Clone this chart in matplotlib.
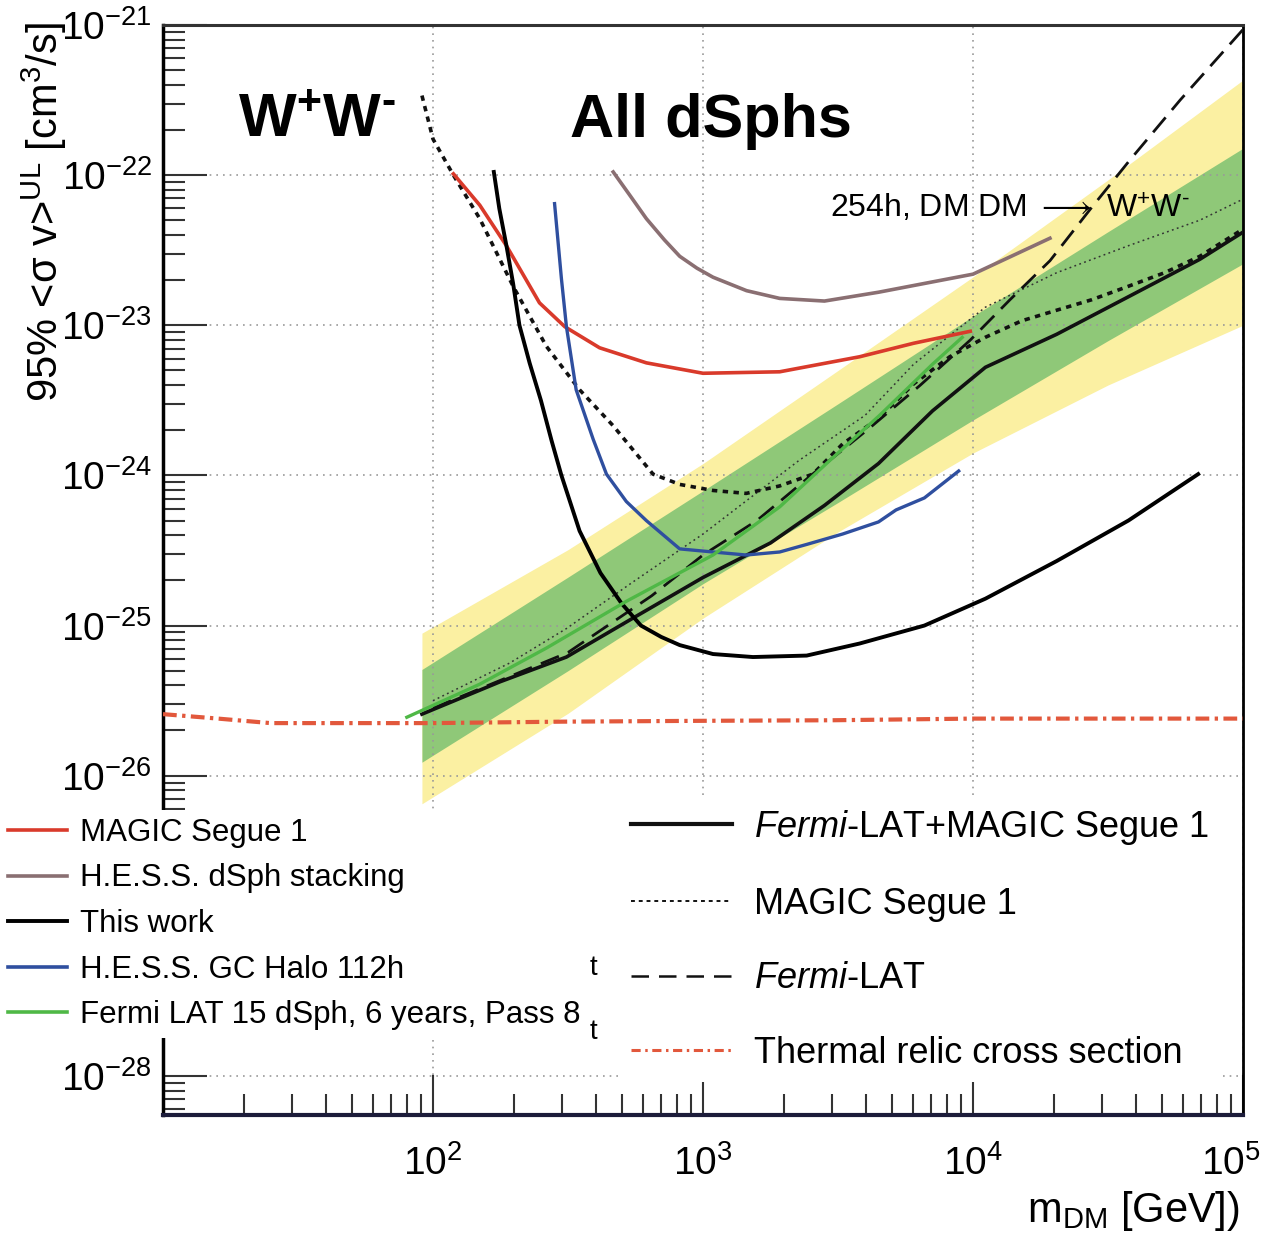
import numpy as np
import matplotlib.pyplot as plt
import matplotlib.transforms as mtransforms
from matplotlib.lines import Line2D
from matplotlib.patches import Rectangle

plt.rcParams['font.family'] = ['Liberation Sans', 'DejaVu Sans']
plt.rcParams['mathtext.fontset'] = 'custom'
plt.rcParams['mathtext.rm'] = 'Liberation Sans'
plt.rcParams['mathtext.it'] = 'Liberation Sans:italic'
plt.rcParams['mathtext.bf'] = 'Liberation Sans:bold'

# expected limit bands (Fermi-LAT+MAGIC)
band_mass = [91, 316, 1000, 3162, 10000, 31623, 100000]
yellow_lo = [6.5e-27, 2.6e-26, 1.12e-25, 4.2e-25, 1.41e-24, 4.0e-24, 1.0e-23]
green_lo = [1.23e-26, 5.0e-26, 1.9e-25, 6.6e-25, 2.34e-24, 7.9e-24, 2.57e-23]
green_hi = [5.1e-26, 2.1e-25, 7.9e-25, 3.0e-24, 1.15e-23, 4.2e-23, 1.51e-22]
yellow_hi = [8.9e-26, 3.2e-25, 1.2e-24, 5.0e-24, 2.1e-23, 9.3e-23, 4.3e-22]

# Fermi-LAT+MAGIC Segue 1 (black solid)
comb_mass = [91, 177, 312, 550, 1000, 1778, 2818, 4467, 7079, 11117, 20417, 37670, 69183, 100000]
comb_sv = [2.57e-26, 4.22e-26, 6.17e-26, 1.12e-25, 2.09e-25, 3.55e-25, 6.31e-25, 1.2e-24,
           2.69e-24, 5.25e-24, 8.71e-24, 1.55e-23, 2.75e-23, 4.17e-23]

# median expected (thin dotted)
med_mass = [100, 192, 312, 550, 1000, 2270, 3981, 6026, 11117, 20417, 37670, 69183, 100000]
med_sv = [3.16e-26, 5.62e-26, 9.55e-26, 1.95e-25, 4.07e-25, 1.26e-24, 2.51e-24, 5.5e-24,
          1.32e-23, 2.24e-23, 3.39e-23, 5.01e-23, 6.92e-23]

# MAGIC Segue 1 (thick dotted)
ms_mass = [91, 100, 119, 149, 198, 263, 349, 465, 653, 820, 1089, 1445, 1923, 2553, 3289,
           4467, 6026, 8204, 11117, 15136, 20417, 27542, 37670, 51286, 69183, 100000]
ms_sv = [3.39e-22, 1.74e-22, 1.0e-22, 5.13e-23, 1.82e-23, 7.24e-24, 3.72e-24, 2.14e-24,
         1.02e-24, 8.71e-25, 7.94e-25, 7.59e-25, 8.51e-25, 1.02e-24, 1.62e-24, 2.4e-24,
         4.07e-24, 6.17e-24, 8.32e-24, 1.07e-23, 1.26e-23, 1.48e-23, 1.82e-23, 2.24e-23,
         2.88e-23, 4.37e-23]

# Fermi-LAT (dashed)
fl_mass = [100, 316, 646, 1000, 1585, 2512, 4169, 6368, 9750, 13710, 19275, 27100, 38110,
           58480, 100000]
fl_sv = [2.82e-26, 6.61e-26, 1.58e-25, 2.95e-25, 5.01e-25, 1.0e-24, 2.09e-24, 3.98e-24,
         7.94e-24, 1.48e-23, 2.69e-23, 5.89e-23, 1.26e-22, 3.16e-22, 9.33e-22]

# thermal relic cross section
relic_mass = [10, 16, 25, 50, 100, 300, 1000, 3000, 10000, 100000]
relic_sv = [2.57e-26, 2.4e-26, 2.24e-26, 2.24e-26, 2.24e-26, 2.29e-26, 2.32e-26, 2.34e-26,
            2.4e-26, 2.4e-26]

# MAGIC Segue 1 (red)
red_mass = [119, 149, 187, 248, 308, 414, 617, 1000, 1923, 3802, 6026, 9772]
red_sv = [1.02e-22, 6.31e-23, 3.39e-23, 1.41e-23, 9.77e-24, 7.08e-24, 5.62e-24, 4.79e-24,
          4.9e-24, 6.17e-24, 7.59e-24, 9.12e-24]

# H.E.S.S. dSph stacking
hd_mass = [465, 540, 617, 720, 820, 950, 1089, 1450, 1923, 2818, 4467, 10000, 19275]
hd_sv = [1.05e-22, 7.2e-23, 5.13e-23, 3.7e-23, 2.88e-23, 2.4e-23, 2.09e-23, 1.7e-23, 1.51e-23,
         1.45e-23, 1.66e-23, 2.19e-23, 3.8e-23]

# This work
tw_mass = [168, 176, 187, 198, 209, 228, 251, 275, 299, 349, 417, 500, 589, 700, 820, 1089,
           1531, 2421, 3802, 6607, 11117, 20417, 37670, 68234]
tw_sv = [1.05e-22, 6.0e-23, 3.4e-23, 1.9e-23, 1.0e-23, 5.6e-24, 3.16e-24, 1.7e-24, 1.0e-24,
         4.27e-25, 2.24e-25, 1.4e-25, 1.0e-25, 8.4e-26, 7.41e-26, 6.46e-26, 6.17e-26,
         6.31e-26, 7.59e-26, 1.0e-25, 1.51e-25, 2.69e-25, 5.01e-25, 1.02e-24]

# H.E.S.S. GC Halo 112h
gc_mass = [282, 299, 312, 339, 392, 439, 520, 617, 820, 1089, 1445, 1923, 2421, 3289, 4467,
           5188, 6607, 8851]
gc_sv = [6.46e-23, 2.04e-23, 9.8e-24, 3.72e-24, 1.74e-24, 1.02e-24, 6.7e-25, 5.0e-25,
         3.24e-25, 3.09e-25, 2.95e-25, 3.09e-25, 3.47e-25, 4.07e-25, 4.9e-25, 5.89e-25,
         7.08e-25, 1.07e-24]

# Fermi LAT 15 dSph
f15_mass = [80, 149, 263, 520, 1089, 1923, 2951, 4508, 7079, 9120]
f15_sv = [2.45e-26, 4.07e-26, 7.08e-26, 1.45e-25, 2.95e-25, 6.17e-25, 1.26e-24, 2.51e-24,
          5.5e-24, 8.3e-24]

y_ticks = [1e-21, 1e-22, 1e-23, 1e-24, 1e-25, 1e-26, 1e-27, 1e-28]

fig = plt.figure(figsize=(12.69, 12.37), dpi=100)
ax = fig.add_axes([163/1269, 1 - 1115/1237, 1080/1269, 1090/1237])
ax.set_xscale('log')
ax.set_yscale('log')
ax.set_xlim(10, 1e5)
ax.set_ylim(10**-28.26, 1e-21)

ax.fill_between(band_mass, yellow_lo, yellow_hi, color='#fbf0a2', lw=0, zorder=1)
ax.fill_between(band_mass, green_lo, green_hi, color='#8fc878', lw=0, zorder=1.1)

ax.plot(relic_mass, relic_sv, color='#e2583c', lw=3, dashes=(3.3, 1.3, 0.8, 1.3), zorder=3)
ax.plot(med_mass, med_sv, color='#333333', lw=1.1, dashes=(1.2, 2.2), zorder=3)
ax.plot(ms_mass, ms_sv, color='#111111', lw=2.6, dashes=(1.5, 1.5), zorder=3)
ax.plot(fl_mass, fl_sv, color='#111111', lw=2.0, dashes=(7, 3.5), zorder=3)
ax.plot(comb_mass, comb_sv, color='#111111', lw=2.6, zorder=3)
ax.plot(f15_mass, f15_sv, color='#4fb846', lw=2.4, zorder=3.5)
ax.plot(red_mass, red_sv, color='#d93a2b', lw=2.6, zorder=3)
ax.plot(hd_mass, hd_sv, color='#8a6f72', lw=2.6, zorder=3)
ax.plot(gc_mass, gc_sv, color='#2f4f9f', lw=2.4, zorder=3)
ax.plot(tw_mass, tw_sv, color='#000000', lw=2.8, zorder=3)

ax.set_xticks([1e2, 1e3, 1e4, 1e5])
ax.set_yticks(y_ticks)
ax.set_ylim(10**-28.26, 1e-21)
ax.grid(True, which='major', ls=(0, (1, 3)), color='#999999', lw=1.2)
ax.tick_params(which='both', direction='in', color='#333333', top=False, right=False)
ax.tick_params(axis='y', which='major', length=32, width=1.5, labelsize=28, pad=8)
ax.tick_params(axis='y', which='minor', length=16, width=1.5)
ax.tick_params(axis='x', which='major', length=29, width=1.5, labelsize=28, pad=22)
ax.tick_params(axis='x', which='minor', length=15, width=1.5)
ax.spines['left'].set_linewidth(2.5)
ax.spines['bottom'].set_linewidth(3)
ax.spines['bottom'].set_color('#1c1c3a')
ax.spines['top'].set_linewidth(2.2)
ax.spines['top'].set_color('#333333')
ax.spines['right'].set_linewidth(2)

fig.canvas.draw()
last = ax.get_xticklabels()[-1]
last.set_transform(last.get_transform() + mtransforms.ScaledTranslation(-12/100, 0, fig.dpi_scale_trans))

fig.text(238/1269, 1 - 137/1237, '$\\mathbf{W^{+}W^{\u2010}}$', fontsize=44, va='baseline')
fig.text(570/1269, 1 - 137/1237, 'All dSphs', fontsize=44, fontweight='bold', va='baseline')
fig.text(830/1269, 1 - 218/1237, '254h, DM DM $\\longrightarrow$ W$^{+}$W$^{\u2010}$', fontsize=23,
         va='baseline')

fig.text(44/1269, 1 - 22/1237, r'95% <σ v>$^{\mathrm{UL}}$ [cm$^{3}$/s]', fontsize=30,
         rotation=90, ha='center', va='top')
fig.text(1240/1269, 4/1237, r'm$_{\mathrm{DM}}$ [GeV])', fontsize=30, ha='right', va='bottom')

# white strip behind the legends, as in the original figure
ax.add_patch(Rectangle((560/1269, 1 - 1068/1237), 678/1269, 270/1237,
                       transform=fig.transFigure, facecolor='white', edgecolor='none',
                       zorder=4, clip_on=False))

left_handles = [Line2D([], [], color='#d93a2b', lw=2.6),
                Line2D([], [], color='#8a6f72', lw=2.6),
                Line2D([], [], color='#000000', lw=2.8),
                Line2D([], [], color='#2f4f9f', lw=2.6),
                Line2D([], [], color='#4fb846', lw=2.6)]
left_labels = ['MAGIC Segue 1', 'H.E.S.S. dSph stacking', 'This work',
               'H.E.S.S. GC Halo 112h', 'Fermi LAT 15 dSph, 6 years, Pass 8']
leg1 = ax.legend(left_handles, left_labels, loc='upper left',
                 bbox_to_anchor=(0, 1 - 810/1237), bbox_transform=fig.transFigure,
                 fontsize=22.5, handlelength=1.9, handletextpad=0.4, labelspacing=0.5,
                 borderpad=0.25, borderaxespad=0, fancybox=False, framealpha=1,
                 facecolor='white', edgecolor='none')
ax.add_artist(leg1)

right_handles = [Line2D([], [], color='#111111', lw=3),
                 Line2D([], [], color='#111111', lw=1.4, dashes=(2, 2)),
                 Line2D([], [], color='#111111', lw=1.8, dashes=(7, 4)),
                 Line2D([], [], color='#e2583c', lw=2.2, dashes=(3, 1.5, 0.8, 1.5))]
right_labels = [r'$\mathit{Fermi}$-LAT+MAGIC Segue 1', 'MAGIC Segue 1',
                r'$\mathit{Fermi}$-LAT', 'Thermal relic cross section']
ax.legend(right_handles, right_labels, loc='upper left',
          bbox_to_anchor=(620/1269, 1 - 797/1237), bbox_transform=fig.transFigure,
          fontsize=26, handlelength=2.8, handletextpad=0.6, labelspacing=1.1,
          borderpad=0.3, borderaxespad=0, fancybox=False, framealpha=1,
          facecolor='white', edgecolor='none')

fig.text(593/1269, 1 - 968/1237, 't', fontsize=20, ha='center', va='center', zorder=6)
fig.text(593/1269, 1 - 1032/1237, 't', fontsize=20, ha='center', va='center', zorder=6)

fig.savefig('out.png', dpi=100)
